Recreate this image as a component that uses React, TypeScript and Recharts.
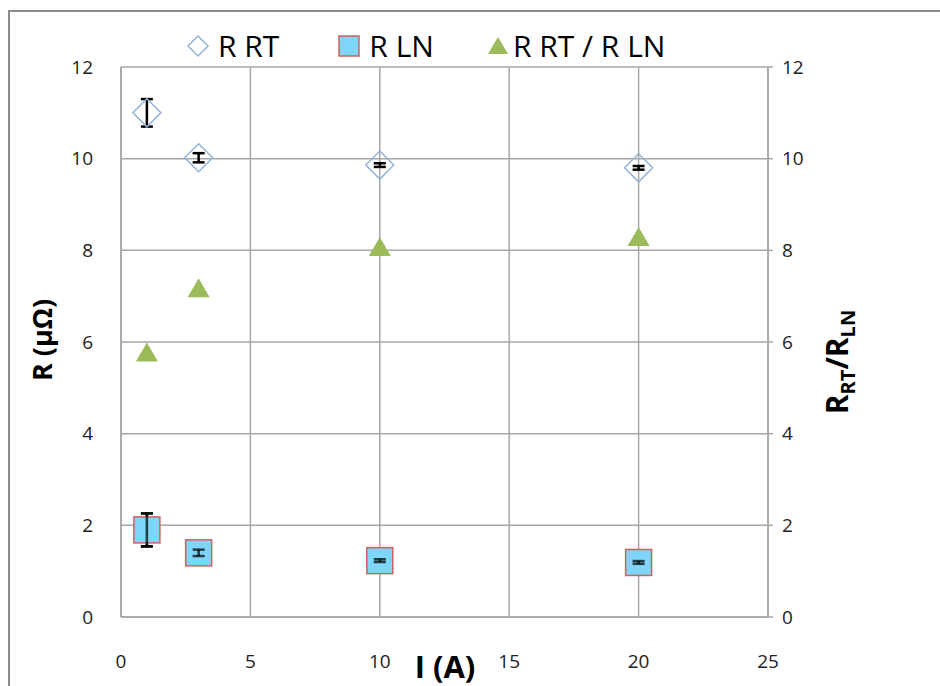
import React from 'react';
import { ScatterChart, Scatter, XAxis, YAxis, CartesianGrid, ErrorBar } from 'recharts';

const current = [1, 3, 10, 20];
const rRT = [11.0, 10.02, 9.86, 9.8];
const rRTErr = [0.3, 0.1, 0.04, 0.04];
const rLN = [1.9, 1.4, 1.23, 1.19];
const rLNErr = [0.36, 0.07, 0.03, 0.03];
const ratio = [5.75, 7.15, 8.05, 8.27];
const xTicks = [0, 5, 10, 15, 20, 25];
const yTicks = [0, 2, 4, 6, 8, 10, 12];

const rtData = current.map((x, i) => ({ x, y: rRT[i], e: rRTErr[i] }));
const lnData = current.map((x, i) => ({ x, y: rLN[i], e: rLNErr[i] }));
const ratioData = current.map((x, i) => ({ x, y: ratio[i] }));

const FONT = '"Open Sans", "Liberation Sans", sans-serif';
const GRID = '#a6a6a6';

const Diamond = (p: any) => {
  const { cx, cy } = p;
  const r = 14;
  return <polygon points={`${cx},${cy - r} ${cx + r},${cy} ${cx},${cy + r} ${cx - r},${cy}`} fill="none" stroke="#95b3d7" strokeWidth={1.5} />;
};
const Square = (p: any) => {
  const { cx, cy } = p;
  const s = 13;
  return <rect x={cx - s} y={cy - s} width={2 * s} height={2 * s} fill="#7dd6f7" stroke="#d0605e" strokeWidth={1.5} />;
};
const Triangle = (p: any) => {
  const { cx, cy } = p;
  return <polygon points={`${cx},${cy - 11} ${cx + 11},${cy + 8} ${cx - 11},${cy + 8}`} fill="#9bbb59" />;
};
const Empty = () => <g />;

const LegendBox = () => (
  <div style={{ position: 'absolute', top: 26, left: 186, display: 'flex', alignItems: 'center', fontFamily: FONT, fontSize: 30, color: '#000', lineHeight: '40px' }}>
    <svg width={24} height={24} style={{ marginRight: 8 }}>
      <polygon points="12,2 22,12 12,22 2,12" fill="none" stroke="#95b3d7" strokeWidth={1.5} />
    </svg>
    <span>R RT</span>
    <svg width={24} height={24} style={{ marginLeft: 58, marginRight: 8 }}>
      <rect x={2} y={2} width={20} height={20} fill="#7dd6f7" stroke="#d0605e" strokeWidth={1.5} />
    </svg>
    <span>R LN</span>
    <svg width={24} height={24} style={{ marginLeft: 52, marginRight: 3 }}>
      <polygon points="12,3 22,20 2,20" fill="#9bbb59" />
    </svg>
    <span>R RT / R LN</span>
  </div>
);

const LeftLabel = () => (
  <text x={52} y={340} transform="rotate(-90 52 340)" textAnchor="middle" fontFamily={FONT} fontWeight="bold" fontSize={27} fill="#000">R (µΩ)</text>
);
const RightLabel = () => (
  <text x={848} y={362} transform="rotate(-90 848 362)" textAnchor="middle" fontFamily={FONT} fontWeight="bold" fontSize={30} fill="#000">
    R<tspan fontSize={20} dy={7}>RT</tspan><tspan dy={-7}>/R</tspan><tspan fontSize={20} dy={7}>LN</tspan>
  </text>
);
const XLabel = () => (
  <text x={445} y={678} textAnchor="middle" fontFamily={FONT} fontWeight="bold" fontSize={31} fill="#000">I (A)</text>
);

export default function App() {
  return (
    <div style={{ position: 'absolute', left: 0, top: 0, width: 940, height: 686, background: '#fff', overflow: 'hidden' }}>
      <div style={{ position: 'absolute', left: 8, top: 10, width: 1000, height: 1000, borderLeft: '2px solid #8c8c8c', borderTop: '2px solid #8c8c8c' }} />
      <ScatterChart width={940} height={686} margin={{ top: 67, right: 112, bottom: 39, left: 61 }} style={{ position: 'absolute', left: 0, top: 0 }}>
        <CartesianGrid yAxisId="left" stroke={GRID} strokeWidth={1.5} />
        <XAxis type="number" dataKey="x" domain={[0, 25]} ticks={xTicks} height={30} axisLine={{ stroke: GRID, strokeWidth: 1.5 }} tickLine={false} tickMargin={32} tick={{ fontFamily: FONT, fontSize: 19, fill: '#222' }} interval={0} />
        <YAxis yAxisId="left" type="number" dataKey="y" domain={[0, 12]} ticks={yTicks} width={60} axisLine={{ stroke: GRID, strokeWidth: 1.5 }} tickLine={false} tickMargin={22} tick={{ fontFamily: FONT, fontSize: 19, fill: '#222' }} interval={0} />
        <YAxis yAxisId="right" orientation="right" type="number" dataKey="y" domain={[0, 12]} ticks={yTicks} width={60} axisLine={{ stroke: GRID, strokeWidth: 1.5 }} tickLine={{ stroke: GRID, strokeWidth: 1.5 }} tickSize={5} tickMargin={9} tick={{ fontFamily: FONT, fontSize: 19, fill: '#222', textAnchor: 'start' }} interval={0} />
        <Scatter name="R RT" data={rtData} yAxisId="left" shape={<Diamond />} isAnimationActive={false}>
          <ErrorBar dataKey="e" direction="y" width={6} stroke="#000" strokeWidth={2.5} />
        </Scatter>
        <Scatter name="R LN" data={lnData} yAxisId="left" shape={<Square />} isAnimationActive={false}>
          <ErrorBar dataKey="e" direction="y" width={6} stroke="#000" strokeWidth={2.5} />
        </Scatter>
        <Scatter name="R LN bars" data={lnData} yAxisId="left" shape={<Empty />} isAnimationActive={false} legendType="none" zIndex={800}>
          <ErrorBar dataKey="e" direction="y" width={6} stroke="#000" strokeOpacity={0.72} strokeWidth={2.5} zIndex={900} />
        </Scatter>
        <Scatter name="R RT / R LN" data={ratioData} yAxisId="right" shape={<Triangle />} isAnimationActive={false} />
        <LeftLabel />
        <RightLabel />
        <XLabel />
      </ScatterChart>
      <LegendBox />
    </div>
  );
}
